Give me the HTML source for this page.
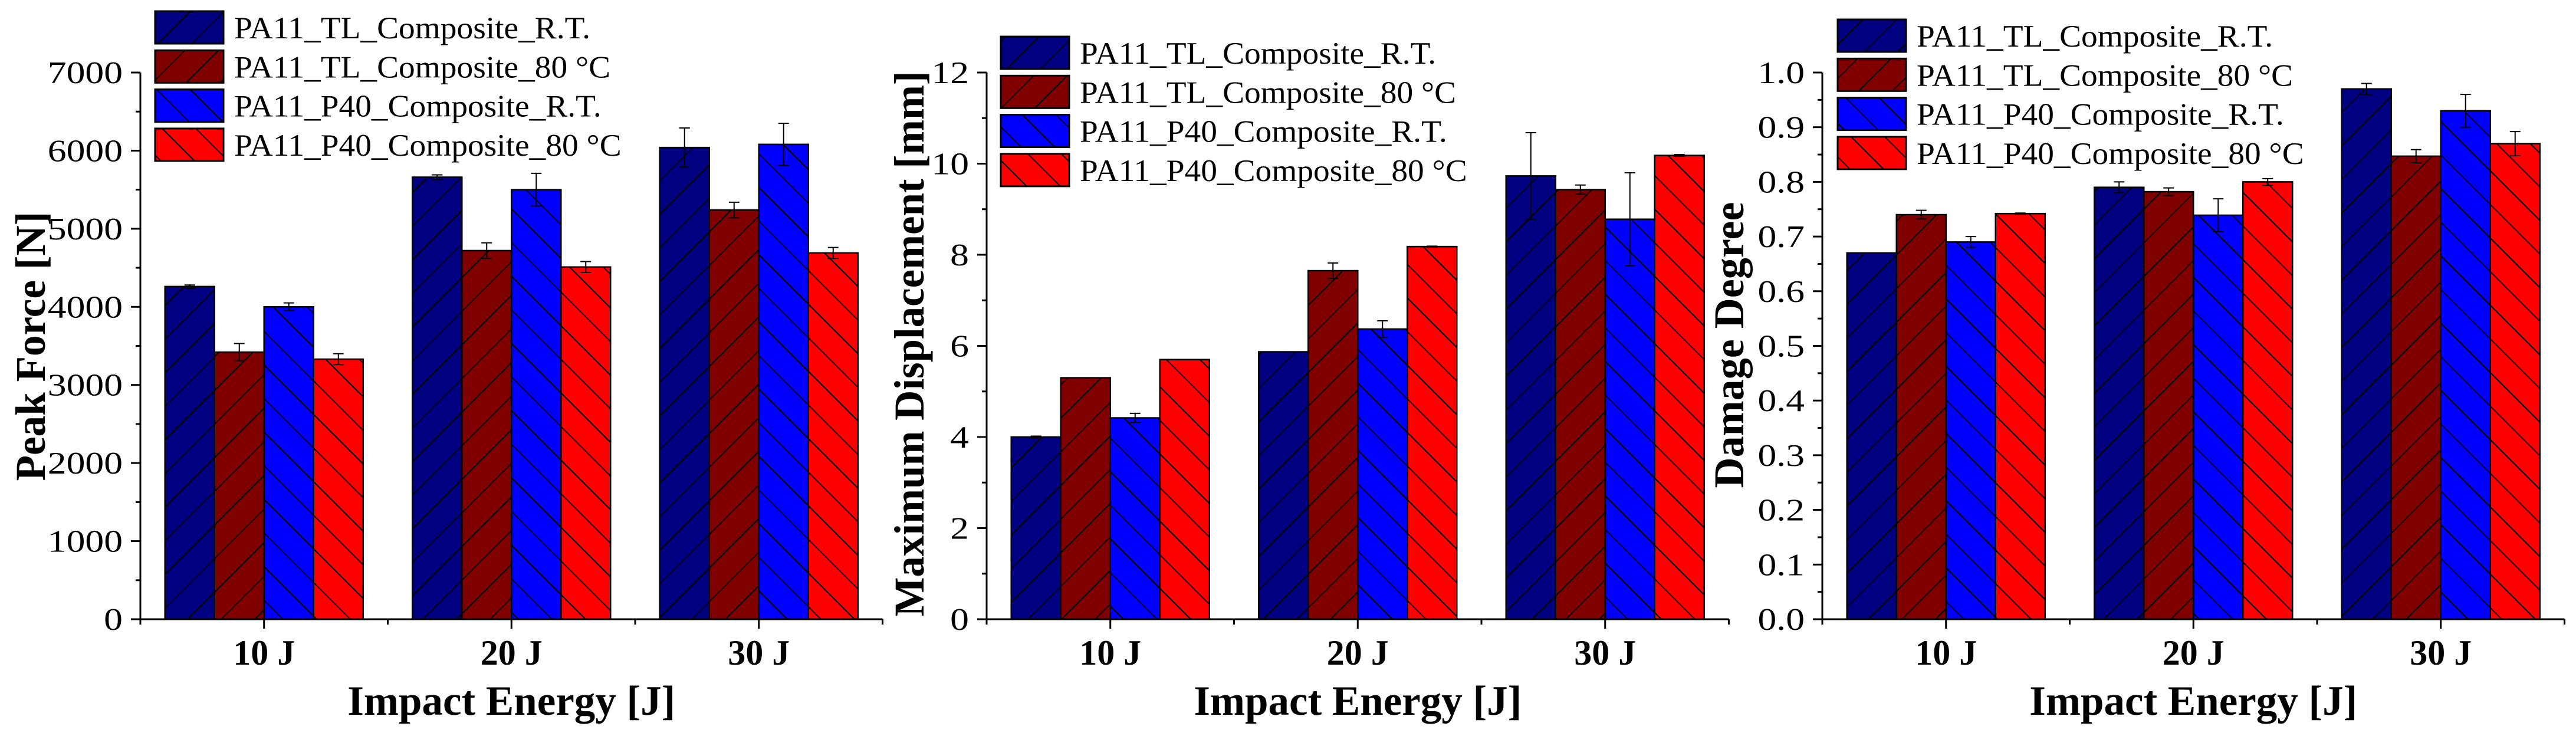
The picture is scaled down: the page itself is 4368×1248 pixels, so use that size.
<!DOCTYPE html>
<html><head><meta charset="utf-8"><style>
html,body{margin:0;padding:0;background:#fff;}
svg{display:block;}
text{font-family:"Liberation Serif","Times New Roman",serif;fill:#000;}
</style></head><body>
<svg id="chart" width="4368" height="1248" viewBox="0 0 4368 1248" xmlns="http://www.w3.org/2000/svg">
<defs>
<pattern id="hatchF" patternUnits="userSpaceOnUse" width="57" height="57"><path d="M-5,62 L62,-5 M-5,5 L5,-5 M52,62 L62,52" stroke="#000" stroke-width="2"/></pattern>
<pattern id="hatchB" patternUnits="userSpaceOnUse" width="57" height="57"><path d="M-5,-5 L62,62 M-5,52 L5,62 M52,-5 L62,5" stroke="#000" stroke-width="2"/></pattern>
</defs>
</svg>
<script>
const categories = ["10 J", "20 J", "30 J"];
const seriesNames = ["PA11_TL_Composite_R.T.", "PA11_TL_Composite_80 °C", "PA11_P40_Composite_R.T.", "PA11_P40_Composite_80 °C"];
// Peak Force [N]
const forceTLRT = [4260, 5660, 6040];
const forceTL80 = [3420, 4720, 5240];
const forceP40RT = [4000, 5500, 6080];
const forceP4080 = [3330, 4510, 4690];
const forceErrTLRT = [20, 30, 250];
const forceErrTL80 = [110, 100, 100];
const forceErrP40RT = [50, 210, 270];
const forceErrP4080 = [70, 70, 70];
const forceTicks = ["0","1000","2000","3000","4000","5000","6000","7000"];
// Maximum Displacement [mm]
const dispTLRT = [4.0, 5.87, 9.73];
const dispTL80 = [5.3, 7.65, 9.43];
const dispP40RT = [4.42, 6.37, 8.78];
const dispP4080 = [5.7, 8.18, 10.18];
const dispErrTLRT = [0.02, 0.0, 0.95];
const dispErrTL80 = [0.0, 0.17, 0.1];
const dispErrP40RT = [0.1, 0.18, 1.02];
const dispErrP4080 = [0.0, 0.01, 0.02];
const dispTicks = ["0","2","4","6","8","10","12"];
// Damage Degree
const dmgTLRT = [0.67, 0.79, 0.97];
const dmgTL80 = [0.74, 0.782, 0.847];
const dmgP40RT = [0.69, 0.739, 0.93];
const dmgP4080 = [0.742, 0.80, 0.87];
const dmgErrTLRT = [0.0, 0.01, 0.01];
const dmgErrTL80 = [0.008, 0.007, 0.012];
const dmgErrP40RT = [0.01, 0.03, 0.03];
const dmgErrP4080 = [0.001, 0.006, 0.022];
const dmgTicks = ["0.0","0.1","0.2","0.3","0.4","0.5","0.6","0.7","0.8","0.9","1.0"];

const colors = ["#000080", "#800000", "#0000ff", "#ff0000"];
const hatches = ["url(#hatchF)", "url(#hatchF)", "url(#hatchB)", "url(#hatchB)"];
const NS = "http://www.w3.org/2000/svg";
const svg = document.getElementById("chart");
function mk(tag, attrs, parent) {
  const e = document.createElementNS(NS, tag);
  for (const k in attrs) e.setAttribute(k, attrs[k]);
  (parent || svg).appendChild(e);
  return e;
}
function stretch(t, f) {
  const w = t.getComputedTextLength();
  if (w > 0) { t.setAttribute("textLength", w * f); t.setAttribute("lengthAdjust", "spacingAndGlyphs"); }
}
const Y0 = 1050, YTOP = 123;

function panel(cfg) {
  const g = mk("g", {});
  
  
  const ax = cfg.axisX, spacing = 419.5, bw = 84;
  const xEnd = ax + spacing * categories.length;
  const yScale = v => Y0 - (v - cfg.min) / (cfg.max - cfg.min) * (Y0 - YTOP);
  const xCenter = i => ax + spacing / 2 + i * spacing;
  cfg.series.forEach((vals, s) => {
    vals.forEach((v, i) => {
      const x = xCenter(i) - 2 * bw + s * bw;
      const y = yScale(v);
      const r = mk("rect", {x: x, y: y, width: bw, height: Y0 - y, fill: colors[s], stroke: "none"}, g);
      
      
      mk("rect", {x: x, y: y, width: bw, height: Y0 - y, fill: hatches[s], stroke: "#000", "stroke-width": 2.5}, g);
      const e = cfg.errors[s][i];
      if (e > 0) {
        const cx = x + bw / 2, y1 = yScale(v + e), y2 = yScale(v - e);
        const eb = mk("path", {d: `M${cx},${y1}V${y2}M${cx-9},${y1}H${cx+9}M${cx-9},${y2}H${cx+9}`, stroke: "#000", "stroke-width": 2, fill: "none"}, g);
        
        
      }
    });
  });
  const axes = mk("path", {d: `M${ax},${YTOP}V${Y0}H${xEnd}`, stroke: "#000", "stroke-width": 3, fill: "none"}, g);
  
  
  cfg.ticks.forEach((t, k) => {
    const v = parseFloat(t);
    const y = yScale(v);
    mk("line", {x1: ax - 16, x2: ax, y1: y, y2: y, stroke: "#000", "stroke-width": 3}, g);
    const tx = mk("text", {x: ax - 30, y: y + 18, "text-anchor": "end", "font-size": 53}, g);
    tx.textContent = t;
    
    
    stretch(tx, 1.2);
    if (k < cfg.ticks.length - 1) {
      const vm = (v + parseFloat(cfg.ticks[k + 1])) / 2;
      const ym = yScale(vm);
      mk("line", {x1: ax - 8, x2: ax, y1: ym, y2: ym, stroke: "#000", "stroke-width": 3}, g);
    }
  });
  categories.forEach((c, i) => {
    const cx = xCenter(i);
    mk("line", {x1: cx, x2: cx, y1: Y0, y2: Y0 + 16, stroke: "#000", "stroke-width": 3}, g);
    const tx = mk("text", {x: cx, y: 1127, "text-anchor": "middle", "font-size": 60, "font-weight": "bold"}, g);
    tx.textContent = c;
    
    
  });
  for (let i = 0; i <= categories.length; i++) {
    const bx = ax + i * spacing;
    mk("line", {x1: bx, x2: bx, y1: Y0, y2: Y0 + 9, stroke: "#000", "stroke-width": 3}, g);
  }
  const xt = mk("text", {x: ax + spacing * 1.5, y: 1212, "text-anchor": "middle", "font-size": 71, "font-weight": "bold"}, g);
  xt.textContent = "Impact Energy [J]";
  
  
  const yt = mk("text", {x: 0, y: 0, "text-anchor": "middle", "font-size": 72, "font-weight": "bold", textLength: cfg.titleLen, lengthAdjust: "spacingAndGlyphs", transform: `translate(${cfg.titleX},${cfg.titleY}) rotate(-90)`}, g);
  yt.textContent = cfg.title;
  
  
  seriesNames.forEach((n, s) => {
    const top = cfg.legTop + s * 66.3;
    const lg = mk("g", {}, g);
    
    
    mk("rect", {x: cfg.legX, y: top, width: 116, height: 55, fill: colors[s]}, lg);
    mk("rect", {x: cfg.legX, y: top, width: 116, height: 55, fill: hatches[s], stroke: "#000", "stroke-width": 3}, lg);
    const t = mk("text", {x: cfg.legX + 134, y: top + 46, "font-size": 53}, lg);
    t.textContent = n;
    stretch(t, 1.045);
  });
}

panel({name: "peak-force-chart", axisX: 238, min: 0, max: 7000, ticks: forceTicks,
  series: [forceTLRT, forceTL80, forceP40RT, forceP4080],
  errors: [forceErrTLRT, forceErrTL80, forceErrP40RT, forceErrP4080],
  title: "Peak Force [N]", titleX: 76, titleY: 587, titleLen: 457, legX: 263, legTop: 19});
panel({name: "max-displacement-chart", axisX: 1673, min: 0, max: 12, ticks: dispTicks,
  series: [dispTLRT, dispTL80, dispP40RT, dispP4080],
  errors: [dispErrTLRT, dispErrTL80, dispErrP40RT, dispErrP4080],
  title: "Maximum Displacement [mm]", titleX: 1566, titleY: 583, titleLen: 925, legX: 1697, legTop: 62});
panel({name: "damage-degree-chart", axisX: 3090, min: 0, max: 1.0, ticks: dmgTicks,
  series: [dmgTLRT, dmgTL80, dmgP40RT, dmgP4080],
  errors: [dmgErrTLRT, dmgErrTL80, dmgErrP40RT, dmgErrP4080],
  title: "Damage Degree", titleX: 2956, titleY: 585, titleLen: 485, legX: 3116, legTop: 33});
</script>
</body></html>
